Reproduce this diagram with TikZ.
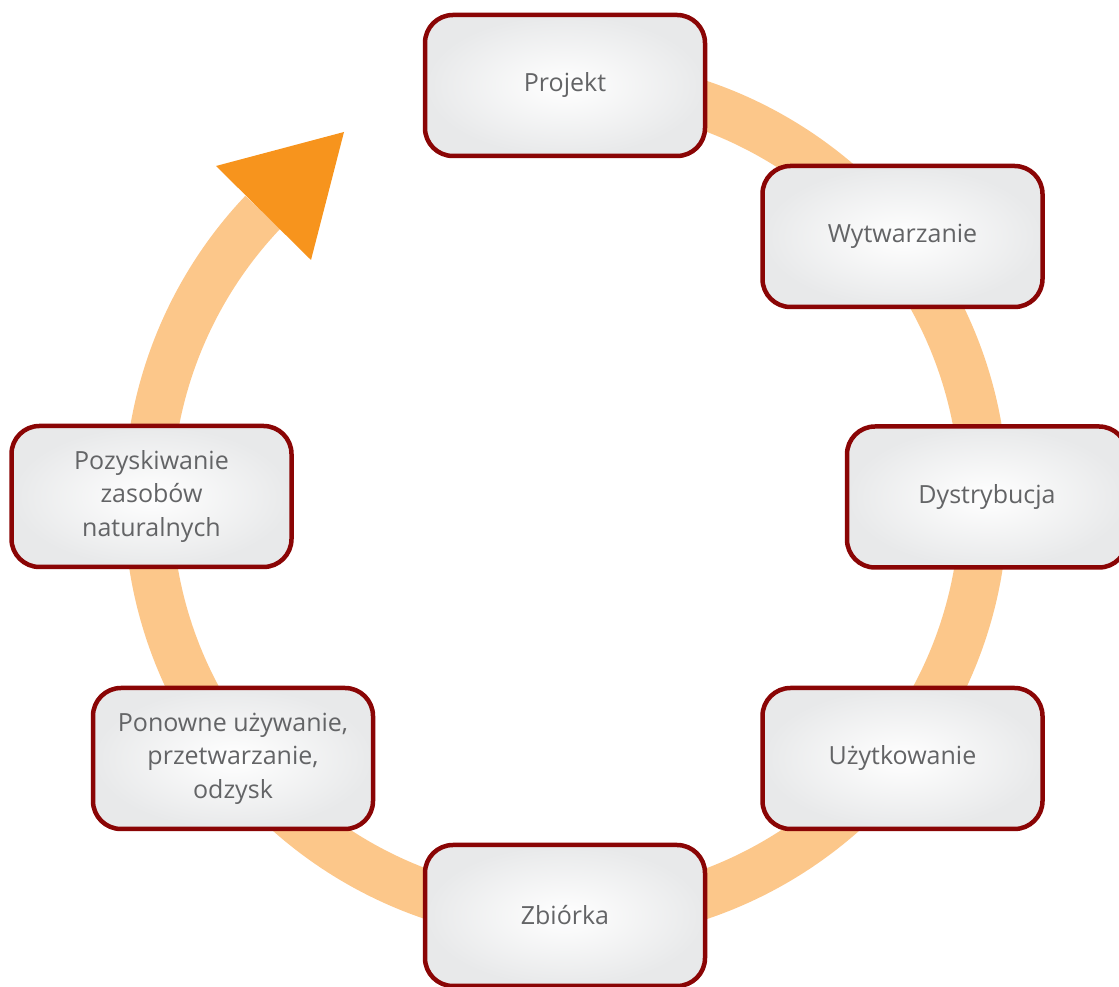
\documentclass[tikz,border=0pt]{standalone}
\usepackage{fontspec}
\setmainfont{Open Sans}
\usetikzlibrary{calc}
\definecolor{ringcol}{HTML}{FCC78A}
\definecolor{arrowcol}{HTML}{F7941D}
\definecolor{boxborder}{HTML}{8A0505}
\definecolor{boxtext}{HTML}{636466}
\definecolor{boxrim}{HTML}{E8E9EA}
\begin{document}
\begin{tikzpicture}[x=1pt,y=1pt,
  stage/.style={draw=boxborder, line width=4.5pt, rounded corners=28pt,
    minimum width=280pt, minimum height=141pt, inner color=white,
    outer color=boxrim, text=boxtext,
    font=\fontsize{25}{33.5}\selectfont, align=center},
  ringline/.style={draw=ringcol, line width=48pt},
  headcol/.style={fill=arrowcol}]
\useasboundingbox (0,0) rectangle (1119,987);
\coordinate (c) at (566,487);
\draw[ringline] ($(c)+(90:418)$) arc[start angle=90, end angle=-223.5, radius=418];
\fill[headcol] (344,855) coordinate (tip) -- (216,821) -- (311,727) -- cycle;
\node[stage] (projekt) at (565,901.5) {Projekt};
\node[stage] (wytw) at (902.5,750.5) {Wytwarzanie};
\node[stage] (dystr) at (987,490) {Dystrybucja};
\node[stage] (uzytk) at (902.5,228.5) {Użytkowanie};
\node[stage] (zbiorka) at (565,71.5) {Zbiórka};
\node[stage] (ponowne) at (233,228.5) {Ponowne używanie,\\przetwarzanie,\\odzysk};
\node[stage] (pozysk) at (151.5,490.5) {Pozyskiwanie\\zasobów\\naturalnych};
\end{tikzpicture}
\end{document}
